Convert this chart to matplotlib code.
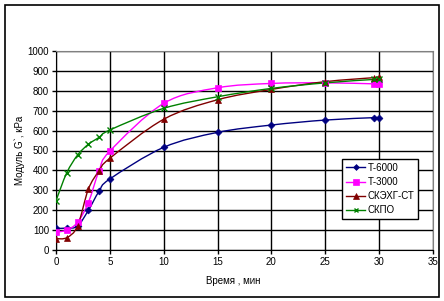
import matplotlib
matplotlib.use("Agg")
import matplotlib.pyplot as plt
from matplotlib.path import Path
from matplotlib.patches import PathPatch, Rectangle
import numpy as np

plt.rcParams['font.family'] = ['Liberation Sans', 'DejaVu Sans']

# Data
t = [0, 1, 2, 3, 4, 5, 10, 15, 20, 25, 29.5, 30]
t6000 = [109, 110, 120, 199, 295, 357, 516, 591, 628, 653, 665, 665]
t3000 = [90, 100, 139, 238, 398, 497, 737, 815, 837, 840, 835, 835]
skehg = [57, 62, 120, 305, 398, 461, 657, 755, 807, 846, 866, 868]
skpo = [248, 388, 477, 531, 566, 603, 712, 770, 812, 840, 857, 858]

series = [
    ('Т-6000', t6000, '#000080', 'D', 3.5),
    ('Т-3000', t3000, '#FF00FF', 's', 4.5),
    ('СКЭХГ-СТ', skehg, '#800000', '^', 4.5),
    ('СКПО', skpo, '#008000', 'x', 4),
]


def smooth_path(x, y):
    # Excel-like smoothed line as cubic Bezier segments
    p = np.column_stack([x, y]).astype(float)
    verts = [p[0]]
    codes = [Path.MOVETO]
    n = len(p)
    for i in range(n - 1):
        p0 = p[i - 1] if i > 0 else p[i]
        p3 = p[i + 2] if i + 2 < n else p[i + 1]
        c1 = p[i] + (p[i + 1] - p0) / 6
        c2 = p[i + 1] - (p3 - p[i]) / 6
        verts += [c1, c2, p[i + 1]]
        codes += [Path.CURVE4] * 3
    return Path(verts, codes)


fig = plt.figure(figsize=(4.44, 3.01), dpi=100)
ax = fig.add_axes([56 / 444, 51 / 301, 377 / 444, 199 / 301])

for name, vals, col, mk, ms in series:
    ax.add_patch(PathPatch(smooth_path(t, vals), fill=False, edgecolor=col,
                           linewidth=1.0, zorder=3))
    ax.plot(t, vals, linestyle='none', marker=mk, color=col, markersize=ms,
            markeredgewidth=1.0 if mk == 'x' else 0.5, zorder=4)
    ax.plot([], [], color=col, marker=mk, markersize=ms - 0.5, linewidth=1.0,
            markeredgewidth=1.0 if mk == 'x' else 0.5, label=name)

ax.set_xlim(0, 35)
ax.set_ylim(0, 1000)
ax.set_xticks(range(0, 36, 5))
ax.set_yticks(range(0, 1001, 100))
ax.grid(True, color='black', linewidth=1.0)
ax.set_axisbelow(True)
for s in ['top', 'right']:
    ax.spines[s].set_color('#808080')
for s in ['left', 'bottom']:
    ax.spines[s].set_color('black')
ax.tick_params(labelsize=7, length=3, width=1, direction='out', pad=2)
ax.set_xlabel('Время , мин', fontsize=7, labelpad=8)
ax.xaxis.set_label_coords(0.47, -0.13)
ax.set_ylabel('Модуль G`, кPa', fontsize=7, labelpad=2)

leg = ax.legend(loc='upper left', bbox_to_anchor=(286 / 377, 1 - 108 / 199),
                fontsize=7, frameon=True, fancybox=False, edgecolor='black',
                framealpha=1, handlelength=2.0, handletextpad=0.25,
                borderpad=0.4, labelspacing=0.42, borderaxespad=0)
leg.get_frame().set_linewidth(1.0)

fig.patches.append(Rectangle((4.5 / 444, 4.5 / 301), 434.5 / 444, 291.5 / 301,
                             transform=fig.transFigure, fill=False,
                             edgecolor='black', linewidth=1.2))

fig.savefig('out.png', dpi=100)
